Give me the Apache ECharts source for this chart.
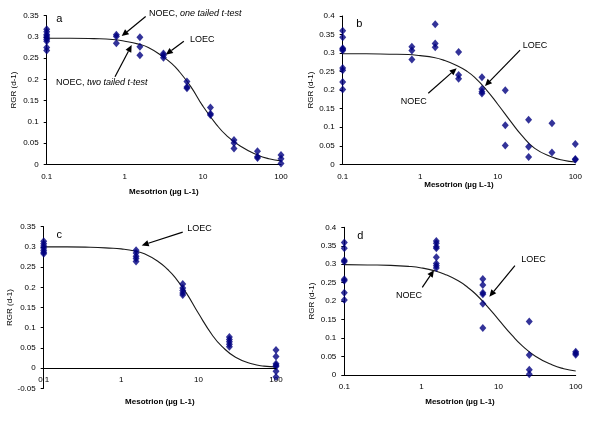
<!DOCTYPE html>
<html>
<head>
<meta charset="utf-8">
<script src="https://cdn.jsdelivr.net/npm/echarts@6/dist/echarts.min.js"></script>
<style>html,body{margin:0;padding:0;background:#fff}#main{width:603px;height:422px}</style>
</head>
<body>
<div id="main"></div>
<script>
// ---------- data ----------
const xTickLabels = ['0.1', '1', '10', '100'];
const yTickLabelsA = ['0', '0.05', '0.1', '0.15', '0.2', '0.25', '0.3', '0.35'];
const yTickLabelsB = ['0', '0.05', '0.1', '0.15', '0.2', '0.25', '0.3', '0.35', '0.4'];
const yTickLabelsC = ['-0.05', '0', '0.05', '0.1', '0.15', '0.2', '0.25', '0.3', '0.35'];
const yTickLabelsD = ['0', '0.05', '0.1', '0.15', '0.2', '0.25', '0.3', '0.35', '0.4'];

const panelLetters = ['a', 'b', 'c', 'd'];
const xAxisTitle = 'Mesotrion (µg L-1)';
const yAxisTitle = 'RGR (d-1)';

// panel a
const dosesA = [0.1, 0.78, 1.56, 3.125, 6.25, 12.5, 25, 50, 100];
const rgrA = [
  [0.318, 0.312, 0.306, 0.302, 0.298, 0.294, 0.290, 0.275, 0.268],
  [0.305, 0.301, 0.285],
  [0.299, 0.277, 0.257],
  [0.261, 0.257, 0.251],
  [0.195, 0.182, 0.179],
  [0.134, 0.119, 0.116],
  [0.057, 0.050, 0.037],
  [0.031, 0.018, 0.015],
  [0.022, 0.013, 0.002]
];
// panel b
const dosesB = [0.1, 0.78, 1.56, 3.125, 6.25, 12.5, 25, 50, 100];
const rgrB = [
  [0.360, 0.343, 0.313, 0.310, 0.307, 0.260, 0.254, 0.222, 0.202],
  [0.317, 0.307, 0.283],
  [0.378, 0.326, 0.316],
  [0.303, 0.241, 0.231],
  [0.235, 0.203, 0.196, 0.191],
  [0.200, 0.105, 0.051],
  [0.120, 0.047, 0.020],
  [0.111, 0.032],
  [0.055, 0.014, 0.012]
];
// panel c
const dosesC = [0.1, 1.56, 6.25, 25, 100];
const rgrC = [
  [0.314, 0.308, 0.302, 0.297, 0.292, 0.287, 0.283],
  [0.292, 0.285, 0.277, 0.271, 0.264],
  [0.208, 0.198, 0.192, 0.186, 0.181],
  [0.077, 0.071, 0.065, 0.059, 0.053],
  [0.045, 0.029, 0.011, 0.007, 0.004, -0.008, -0.022]
];
// panel d
const dosesD = [0.1, 1.56, 6.25, 25, 100];
const rgrD = [
  [0.359, 0.343, 0.311, 0.307, 0.259, 0.255, 0.223, 0.203],
  [0.363, 0.357, 0.347, 0.343, 0.319, 0.302, 0.296, 0.290],
  [0.260, 0.244, 0.223, 0.219, 0.193, 0.127],
  [0.145, 0.054, 0.014, 0.002],
  [0.063, 0.059, 0.055]
];

// fitted curves, values
const curveX = [0.1, 0.2, 0.4, 0.7, 1, 1.5, 2, 3, 4, 5, 7, 10, 15, 20, 30, 50, 70, 100];
const curveA = [0.297, 0.297, 0.296, 0.294, 0.290, 0.283, 0.275, 0.255, 0.237, 0.218, 0.183, 0.137, 0.093, 0.068, 0.043, 0.022, 0.013, 0.008];
const curveB = [0.298, 0.298, 0.297, 0.296, 0.293, 0.288, 0.281, 0.266, 0.251, 0.235, 0.203, 0.162, 0.113, 0.080, 0.043, 0.020, 0.011, 0.006];
const curveC = [0.300, 0.300, 0.299, 0.297, 0.295, 0.290, 0.283, 0.264, 0.244, 0.224, 0.185, 0.135, 0.082, 0.054, 0.027, 0.010, 0.005, 0.003];
const curveD = [0.299, 0.298, 0.297, 0.294, 0.290, 0.282, 0.273, 0.255, 0.237, 0.220, 0.188, 0.150, 0.107, 0.080, 0.051, 0.027, 0.017, 0.011];

// annotations (data coordinates of each panel)
const annotations = [
  {grid: 0, text: '{n|NOEC, }{i|one tailed t-test}', at: [2.04, 0.356], from: [1.85, 0.348], to: [0.912, 0.302]},
  {grid: 0, text: '{n|LOEC}', at: [6.84, 0.295], from: [5.7, 0.290], to: [3.35, 0.258]},
  {grid: 0, text: '{n|NOEC, }{i|two tailed t-test}', at: [0.1316, 0.192], from: [0.749, 0.206], to: [1.225, 0.281]},
  {grid: 1, text: '{n|LOEC}', at: [20.97, 0.321], from: [19.4, 0.308], to: [6.84, 0.211]},
  {grid: 1, text: '{n|NOEC}', at: [0.56, 0.169], from: [1.27, 0.1915], to: [2.95, 0.259]},
  {grid: 2, text: '{n|LOEC}', at: [7.16, 0.3465], from: [6.24, 0.3366], to: [1.844, 0.3037]},
  {grid: 3, text: '{n|LOEC}', at: [19.7, 0.3114], from: [16.3, 0.296], to: [7.59, 0.212]},
  {grid: 3, text: '{n|NOEC}', at: [0.468, 0.2148], from: [1.026, 0.2375], to: [1.455, 0.284]}
];
const letterPos = [[0.145, 0.343], [0.164, 0.378], [0.159, 0.330], [0.161, 0.377]];

// ---------- chart ----------
const FONT = '"Liberation Sans", Arial, sans-serif';
const grids = [
  {left: 46.7, top: 15.7, width: 234.3, height: 148.6},
  {left: 342.7, top: 16, width: 232.6, height: 148.3},
  {left: 43.7, top: 226.7, width: 232.3, height: 161.6},
  {left: 344.3, top: 227.3, width: 231.4, height: 147.7}
];
const yCfg = [
  {min: 0, max: 0.35, labels: yTickLabelsA, nameGap: 28.7},
  {min: 0, max: 0.4, labels: yTickLabelsB, nameGap: 26},
  {min: -0.05, max: 0.35, labels: yTickLabelsC, nameGap: 30.4},
  {min: 0, max: 0.4, labels: yTickLabelsD, nameGap: 28.6}
];
const xNameGaps = [23, 15, 9.5, 22.7];
const xLabelMargins = [8, 8, -13, 8];
const panels = [
  {doses: dosesA, rgr: rgrA, curve: curveA},
  {doses: dosesB, rgr: rgrB, curve: curveB},
  {doses: dosesC, rgr: rgrC, curve: curveC},
  {doses: dosesD, rgr: rgrD, curve: curveD}
];

const xAxes = grids.map((g, i) => ({
  type: 'log', logBase: 10, gridIndex: i, min: 0.1, max: 100, position: 'bottom',
  axisLine: {show: i !== 2, onZero: false, lineStyle: {color: '#000', width: 1}},
  axisTick: {show: false},
  splitLine: {show: false},
  axisLabel: {
    color: '#000', fontSize: 8, fontFamily: FONT, margin: xLabelMargins[i],
    formatter: v => xTickLabels[Math.round(Math.log10(v) + 1)]
  },
  name: xAxisTitle, nameLocation: 'middle', nameGap: xNameGaps[i],
  nameTextStyle: {color: '#000', fontSize: 8, fontWeight: 'bold', fontFamily: FONT}
}));
const yAxes = yCfg.map((c, i) => ({
  type: 'value', gridIndex: i, min: c.min, max: c.max, interval: 0.05,
  axisLine: {show: true, onZero: false, lineStyle: {color: '#000', width: 1}},
  axisTick: {show: true, inside: false, length: 3, lineStyle: {color: '#000'}},
  splitLine: {show: false},
  axisLabel: {
    color: '#000', fontSize: 8, fontFamily: FONT, margin: 8,
    formatter: v => c.labels[Math.round((v - c.min) / 0.05)]
  },
  name: yAxisTitle, nameLocation: 'middle', nameGap: c.nameGap,
  nameTextStyle: {color: '#000', fontSize: 8, fontFamily: FONT}
}));

const series = [];
panels.forEach((p, i) => {
  series.push({
    type: 'line', xAxisIndex: i, yAxisIndex: i, smooth: true, showSymbol: false,
    lineStyle: {color: '#1a1a1a', width: 1.1}, z: 2, silent: true,
    data: p.curve.map((v, k) => [curveX[k], v]),
    markLine: i === 2 ? {
      silent: true, symbol: ['none', 'none'], animation: false,
      label: {show: false},
      lineStyle: {color: '#000', width: 1, type: 'solid'},
      data: [{yAxis: 0}]
    } : undefined
  });
  const pts = [];
  p.doses.forEach((d, k) => p.rgr[k].forEach(v => pts.push([d, v])));
  series.push({
    type: 'scatter', xAxisIndex: i, yAxisIndex: i, symbol: 'diamond', symbolSize: [7, 8],
    itemStyle: {color: '#000080'}, clip: false, z: 3, data: pts
  });
});

const chart = echarts.init(document.getElementById('main'), null, {renderer: 'canvas'});
chart.setOption({
  animation: false,
  backgroundColor: '#fff',
  grid: grids,
  xAxis: xAxes,
  yAxis: yAxes,
  series: series
});

// annotations placed through each panel's own axes
const graphic = [];
const rich = {
  n: {fontSize: 9, fontFamily: FONT, color: '#000'},
  i: {fontSize: 9, fontFamily: FONT, color: '#000', fontStyle: 'italic'}
};
annotations.forEach(a => {
  const t = chart.convertToPixel({gridIndex: a.grid}, a.at);
  graphic.push({type: 'text', x: t[0], y: t[1], silent: true,
    style: {text: a.text, rich: rich, align: 'left', verticalAlign: 'middle', fill: '#000'}});
  const p1 = chart.convertToPixel({gridIndex: a.grid}, a.from);
  const p2 = chart.convertToPixel({gridIndex: a.grid}, a.to);
  const dx = p2[0] - p1[0], dy = p2[1] - p1[1];
  const len = Math.sqrt(dx * dx + dy * dy);
  const ux = dx / len, uy = dy / len;
  const hl = 7, hw = 3.2;
  const bx = p2[0] - ux * hl, by = p2[1] - uy * hl;
  graphic.push({type: 'line', silent: true,
    shape: {x1: p1[0], y1: p1[1], x2: bx, y2: by},
    style: {stroke: '#000', lineWidth: 1.2}});
  graphic.push({type: 'polygon', silent: true,
    shape: {points: [[p2[0], p2[1]], [bx - uy * hw, by + ux * hw], [bx + uy * hw, by - ux * hw]]},
    style: {fill: '#000'}});
});
letterPos.forEach((lp, i) => {
  const t = chart.convertToPixel({gridIndex: i}, lp);
  graphic.push({type: 'text', x: t[0], y: t[1], silent: true,
    style: {text: panelLetters[i], font: '11px ' + FONT, fill: '#000', align: 'center', verticalAlign: 'middle'}});
});
chart.setOption({graphic: graphic});
</script>
</body>
</html>
